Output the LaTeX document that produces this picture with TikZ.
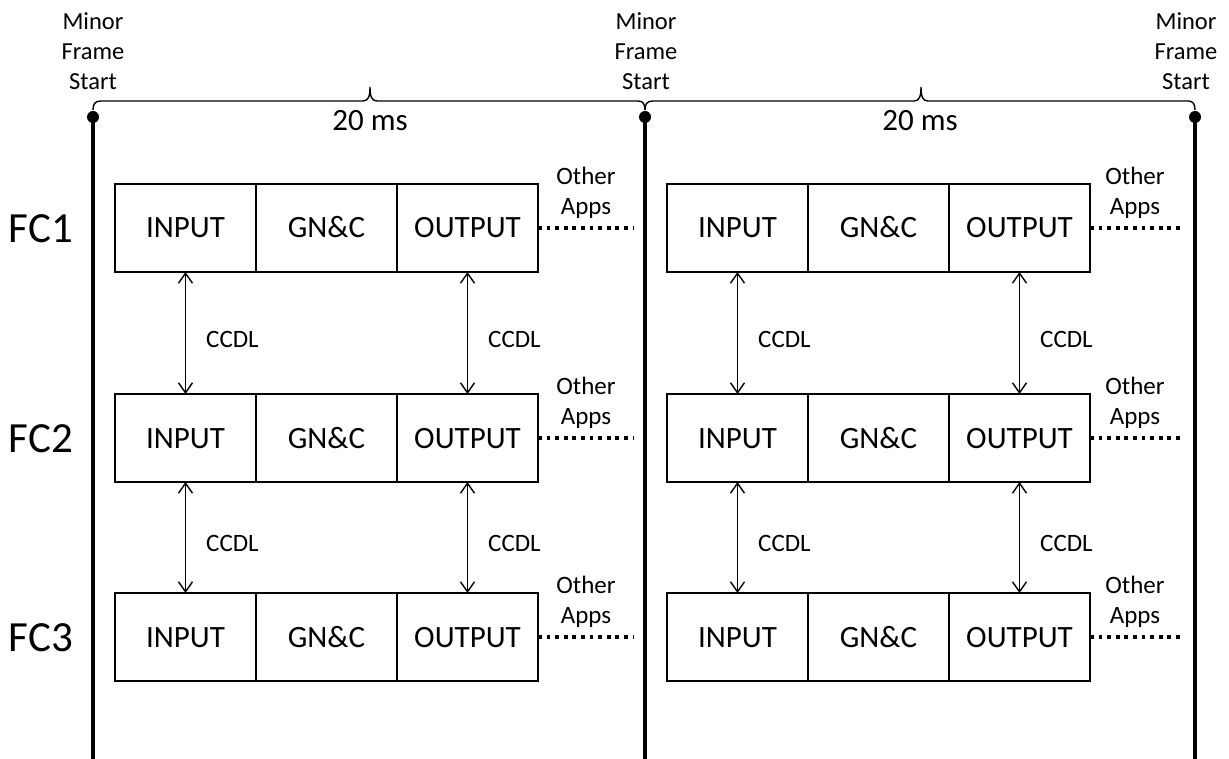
\documentclass[tikz,border=0pt]{standalone}
\usepackage{fontspec}
\setmainfont{Carlito}
\usetikzlibrary{arrows.meta,calc}
\begin{document}
\begin{tikzpicture}[x=1pt,y=-1pt,
  cell/.style={draw, line width=1.4pt, minimum width=141pt, minimum height=88pt, inner sep=0pt, outer sep=0pt, text height=20pt, text depth=0pt, font=\fontsize{31}{36}\selectfont},
  fclabel/.style={font=\fontsize{43}{48}\selectfont, inner sep=0pt},
  timeline/.style={line width=4.5pt},
  bracepath/.style={line width=1.4pt},
  ccdl/.style={line width=1.4pt, {Straight Barb[length=10pt,width=14pt]}-{Straight Barb[length=10pt,width=14pt]}},
  ccdllabel/.style={font=\fontsize{25}{30}\selectfont, inner sep=0pt, anchor=west},
  dots/.style={line width=3.8pt, dash pattern=on 3.8pt off 4.8pt},
  apps/.style={font=\fontsize{25}{30}\selectfont, align=center, inner sep=0pt},
  mfs/.style={font=\fontsize{24.5}{30}\selectfont, align=center, inner sep=0pt},
  ms/.style={font=\fontsize{31}{36}\selectfont, inner sep=0pt}]
\useasboundingbox (0,0) rectangle (1229,759);

% timelines
\coordinate (topA) at (93,117);  \coordinate (botA) at (93,759);
\coordinate (topB) at (645,117); \coordinate (botB) at (645,759);
\coordinate (topC) at (1195,117); \coordinate (botC) at (1195,759);
\foreach \t in {A,B,C} {
  \draw[timeline] (top\t) -- (bot\t);
  \fill (top\t) circle (6pt);
}

% braces
\draw[bracepath] (93,110) .. controls (93,104) and (95,101) .. (101,101) -- (363,101)
  .. controls (368,101) and (370,97) .. (370,87) .. controls (370,97) and (372,101) .. (377,101)
  -- (638,101) .. controls (643,101) and (645,104) .. (645,110);
\draw[bracepath] (645,110) .. controls (645,104) and (647,101) .. (653,101) -- (914,101)
  .. controls (919,101) and (921,97) .. (921,87) .. controls (921,97) and (923,101) .. (928,101)
  -- (1188,101) .. controls (1193,101) and (1195,104) .. (1195,110);

% top labels
\node[mfs] (mfsA) at (93,51) {Minor\\Frame\\Start};
\node[mfs] (mfsB) at (646,51) {Minor\\Frame\\Start};
\node[mfs] (mfsC) at (1186,51) {Minor\\Frame\\Start};
\node[ms] (msA) at (370,121) {20 ms};
\node[ms] (msB) at (920,121) {20 ms};

% FC labels
\node[fclabel] (fc1) at (41,229) {FC1};
\node[fclabel] (fc2) at (41,439) {FC2};
\node[fclabel] (fc3) at (41,638) {FC3};

% boxes
\foreach \g/\x in {L/115, R/667} {
  \foreach \r/\y in {1/228, 2/438, 3/637} {
    \node[cell] (in\g\r) at (\x+70.5,\y) {INPUT};
    \node[cell, anchor=west] (gnc\g\r) at (in\g\r.east) {GN\&C};
    \node[cell, anchor=west] (out\g\r) at (gnc\g\r.east) {OUTPUT};
  }
}

% other apps
\foreach \g/\e in {L/634, R/1180} {
  \foreach \r/\y in {1/228, 2/438, 3/637} {
    \coordinate (end\g\r) at (\e,\y);
    \draw[dots] (out\g\r.east) -- (end\g\r) node[midway, apps, yshift=35pt] {Other\\Apps};
  }
}

% CCDL links
\foreach \g in {L,R} {
  \foreach \a/\b in {1/2, 2/3} {
    \draw[ccdl] (in\g\a.south) -- (in\g\b.north) node[midway, ccdllabel, xshift=20pt, yshift=-6pt] {CCDL};
    \draw[ccdl] (out\g\a.south) -- (out\g\b.north) node[midway, ccdllabel, xshift=20pt, yshift=-6pt] {CCDL};
  }
}
\end{tikzpicture}
\end{document}
